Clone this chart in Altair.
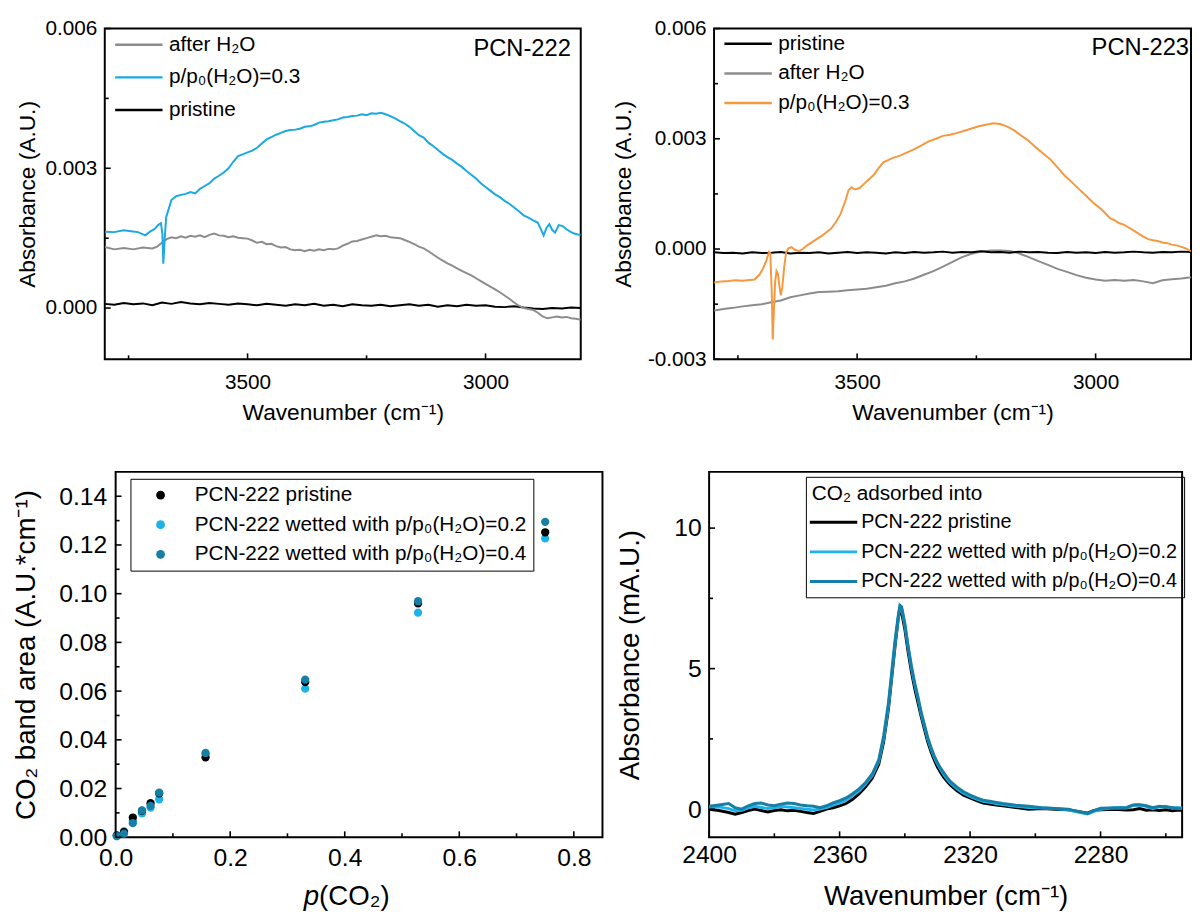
import altair as alt
import pandas as pd

FONT = "Liberation Sans, Arial, Helvetica, sans-serif"
BLACK = "#000000"
GRAY = "#8c8c8c"
SKY = "#1aa9e1"
ORANGE = "#f5983f"
LIGHT = "#1db3ea"
DARK = "#177fa5"
LINE_SYMBOL = "M-4,0L4,0"

# ---------------- Panel A : PCN-222 ----------------
a_black_wn = list(range(3800, 2799, -20))
a_black = [0.00009,0.00007,0.00011,0.00008,0.00010,0.00006,0.00012,0.00009,0.00013,0.00010,
           0.00008,0.00011,0.00009,0.00007,0.00010,0.00008,0.00006,0.00009,0.00007,0.00005,
           0.00008,0.00006,0.00009,0.00005,0.00007,0.00004,0.00008,0.00006,0.00005,0.00007,
           0.00004,0.00006,0.00008,0.00005,0.00007,0.00003,0.00006,0.00004,0.00007,0.00005,
           0.00006,0.00003,0.00002,0.00004,0.00001,-0.00001,-0.00002,0.00000,-0.00001,0.00001,
           0.00000]

a_gray_wn = [3800,3780,3760,3740,3720,3700] + list(range(3690, 2799, -10))
a_gray = [0.00131,0.00126,0.00129,0.00126,0.00130,0.00128,
          0.00132,0.00140,0.00148,0.00152,0.00150,0.00154,0.00151,0.00155,0.00153,0.00156,
          0.00152,0.00157,0.00160,0.00156,0.00155,0.00152,0.00154,0.00151,0.00150,0.00149,
          0.00145,0.00140,0.00142,0.00137,0.00138,0.00133,0.00130,0.00131,0.00126,0.00124,
          0.00125,0.00122,0.00125,0.00123,0.00126,0.00124,0.00127,0.00126,0.00128,0.00134,
          0.00138,0.00143,0.00144,0.00147,0.00150,0.00153,0.00156,0.00154,0.00155,0.00152,
          0.00151,0.00150,0.00146,0.00142,0.00137,0.00132,0.00128,0.00122,0.00115,0.00108,
          0.00102,0.00096,0.00091,0.00085,0.00080,0.00075,0.00070,0.00064,0.00058,0.00052,
          0.00046,0.00040,0.00034,0.00027,0.00020,0.00012,0.00005,0.00000,-0.00002,-0.00004,
          -0.00010,-0.00018,-0.00022,-0.00020,-0.00018,-0.00020,-0.00019,-0.00022,-0.00023,-0.00025]

a_blue_wn = ([3800,3780,3760,3745,3730,3715,3705,3695,3688,3682,3679,3677,3674,3671,3665,3660]
             + list(range(3650, 2889, -10))
             + [2885,2878,2872,2866,2860,2854,2846,2838,2830,2822,2814,2806,2800])
a_blue = [0.00164,0.00163,0.00167,0.00165,0.00163,0.00156,0.00164,0.00170,0.00178,0.00182,
          0.00160,0.00095,0.00150,0.00195,0.00215,0.00232,
          0.00240,0.00243,0.00245,0.00249,0.00246,0.00256,0.00262,0.00268,0.00278,0.00284,
          0.00291,0.00300,0.00314,0.00326,0.00330,0.00334,0.00338,0.00344,0.00353,0.00362,
          0.00367,0.00372,0.00376,0.00380,0.00382,0.00383,0.00385,0.00389,0.00390,0.00393,
          0.00398,0.00400,0.00401,0.00403,0.00405,0.00409,0.00410,0.00412,0.00413,0.00416,
          0.00414,0.00418,0.00417,0.00419,0.00416,0.00412,0.00407,0.00401,0.00396,0.00389,
          0.00380,0.00371,0.00366,0.00355,0.00348,0.00339,0.00331,0.00324,0.00318,0.00310,
          0.00303,0.00294,0.00286,0.00278,0.00268,0.00260,0.00252,0.00244,0.00238,0.00230,
          0.00224,0.00216,0.00208,0.00199,0.00194,0.00188,0.00183,
          0.00172,0.00156,0.00172,0.00180,0.00168,0.00162,0.00178,0.00176,0.00169,0.00164,
          0.00160,0.00158,0.00157]

a_series = ["after H₂O", "p/p₀(H₂O)=0.3", "pristine"]
a_colors = [GRAY, SKY, BLACK]

# ---------------- Panel B : PCN-223 ----------------
b_black_wn = list(range(3800, 2799, -20))
b_black = [-0.00009,-0.00011,-0.00010,-0.00012,-0.00009,-0.00011,-0.00010,-0.00008,-0.00012,-0.00010,
           -0.00011,-0.00009,-0.00012,-0.00010,-0.00008,-0.00011,-0.00009,-0.00010,-0.00012,-0.00009,
           -0.00011,-0.00008,-0.00010,-0.00009,-0.00007,-0.00010,-0.00008,-0.00009,-0.00006,-0.00009,
           -0.00008,-0.00010,-0.00007,-0.00009,-0.00008,-0.00010,-0.00011,-0.00008,-0.00010,-0.00009,
           -0.00011,-0.00008,-0.00010,-0.00009,-0.00007,-0.00009,-0.00010,-0.00008,-0.00009,-0.00007,
           -0.00008]

b_gray_wn = list(range(3800, 2799, -20))
b_gray = [-0.00167,-0.00163,-0.00160,-0.00156,-0.00153,-0.00150,-0.00145,-0.00140,-0.00131,-0.00126,
          -0.00121,-0.00117,-0.00116,-0.00115,-0.00112,-0.00110,-0.00108,-0.00104,-0.00100,-0.00093,
          -0.00088,-0.00080,-0.00070,-0.00060,-0.00048,-0.00035,-0.00022,-0.00013,-0.00007,-0.00004,
          -0.00004,-0.00005,-0.00012,-0.00022,-0.00033,-0.00043,-0.00054,-0.00062,-0.00071,-0.00078,
          -0.00083,-0.00086,-0.00084,-0.00086,-0.00084,-0.00088,-0.00093,-0.00085,-0.00082,-0.00080,
          -0.00077]

b_orange_wn = [3800,3785,3770,3755,3740,3725,3715,3705,3697,3690,
               3685,3682,3679,3677,3675,3672,3669,3666,3663,3660,
               3657,3653,3649,3644,3638,3630,3622,3614,3605,3595,
               3585,3575,3565,3555,3545,3535,3525,3518,3512,3505,
               3495,3485,3475,3465,3455,3445,3435,3425,3410,3395,
               3380,3365,3350,3335,3320,3305,3290,3275,3260,3245,
               3230,3215,3200,3185,3170,3155,3140,3125,3110,3095,
               3080,3065,3050,3035,3020,3005,2990,2980,2970,2960,
               2950,2940,2930,2920,2910,2900,2890,2880,2870,2860,
               2850,2840,2830,2820,2810,2800]
b_orange = [-0.00091,-0.00088,-0.00087,-0.00085,-0.00086,-0.00084,-0.00083,-0.00070,-0.00052,-0.00030,
            -0.00008,-0.00012,-0.00120,-0.00246,-0.00180,-0.00090,-0.00060,-0.00068,-0.00100,-0.00126,
            -0.00105,-0.00050,-0.00010,0.00002,0.00005,-0.00002,-0.00006,0.00000,0.00010,0.00018,
            0.00027,0.00035,0.00045,0.00055,0.00072,0.00095,0.00130,0.00160,0.00168,0.00162,
            0.00166,0.00178,0.00190,0.00202,0.00220,0.00236,0.00242,0.00248,0.00254,0.00263,
            0.00272,0.00282,0.00293,0.00300,0.00308,0.00311,0.00316,0.00322,0.00328,0.00334,
            0.00338,0.00342,0.00340,0.00333,0.00322,0.00308,0.00294,0.00276,0.00260,0.00244,
            0.00222,0.00200,0.00182,0.00163,0.00145,0.00126,0.00110,0.00098,0.00084,0.00078,
            0.00070,0.00066,0.00058,0.00050,0.00042,0.00034,0.00027,0.00024,0.00022,0.00018,
            0.00016,0.00012,0.00010,0.00006,0.00001,-0.00006]

b_series = ["pristine", "after H₂O", "p/p₀(H₂O)=0.3"]
b_colors = [BLACK, GRAY, ORANGE]

# ---------------- Panel C : band area vs p(CO2) ----------------
c_p = [0.002, 0.0146, 0.030, 0.046, 0.061, 0.076, 0.157, 0.331, 0.528, 0.750]
c_pristine = [0.0008, 0.0022, 0.0081, 0.0108, 0.0140, 0.0180, 0.0328, 0.0637, 0.0960, 0.1252]
c_wet02 = [0.0005, 0.0024, 0.0068, 0.0098, 0.0122, 0.0156, 0.0342, 0.0610, 0.0922, 0.1227]
c_wet04 = [0.0005, 0.0015, 0.0058, 0.0110, 0.0129, 0.0183, 0.0346, 0.0647, 0.0969, 0.1295]
c_series = ["PCN-222 pristine", "PCN-222 wetted with p/p₀(H₂O)=0.2", "PCN-222 wetted with p/p₀(H₂O)=0.4"]
c_colors = [BLACK, LIGHT, DARK]

# ---------------- Panel D : CO2 band ----------------
d_wn = [2400,2397,2394,2392,2390,2388,2386,2384,2382,2380,
        2378,2376,2374,2372,2370,2368,2366,2364,2362,2360,
        2358,2356,2354,2352,2350,2348,2346.5,2345,2344,2343,
        2342,2341.5,2341,2340,2339,2338,2337,2336,2335,2334,
        2333,2332,2331,2330,2329,2328,2327,2326,2324,2322,
        2320,2318,2316,2314,2312,2310,2306,2302,2298,2294,
        2290,2287,2284,2282,2280,2276,2272,2270,2268,2266,
        2264,2262,2260,2258,2256,2252,2250]
d_pristine = [0.0,-0.05,-0.12,-0.18,-0.12,-0.05,0.0,-0.05,-0.10,-0.05,
              -0.02,-0.06,-0.04,-0.08,-0.12,-0.15,-0.08,0.0,0.05,0.12,
              0.2,0.35,0.55,0.8,1.1,1.6,2.4,3.6,4.7,5.8,
              6.8,7.1,7.0,6.4,5.6,4.9,4.3,3.8,3.3,2.85,
              2.4,2.05,1.75,1.5,1.3,1.12,0.98,0.85,0.65,0.5,
              0.4,0.3,0.22,0.18,0.15,0.12,0.06,0.0,0.02,0.0,
              -0.02,-0.08,-0.14,-0.05,-0.02,0.0,-0.03,-0.02,0.02,-0.04,
              -0.02,-0.05,-0.02,-0.06,-0.03,-0.05,-0.05]
d_wet02 = [0.05,0.08,0.02,-0.06,-0.04,0.05,0.10,0.06,0.02,0.05,
           0.10,0.08,0.05,0.02,0.0,-0.03,0.0,0.06,0.14,0.22,
           0.32,0.48,0.65,0.9,1.2,1.7,2.5,3.7,4.8,5.9,
           6.85,7.2,7.15,6.55,5.75,5.05,4.45,3.95,3.4,2.95,
           2.5,2.15,1.85,1.6,1.4,1.22,1.06,0.93,0.72,0.57,
           0.45,0.36,0.28,0.24,0.2,0.16,0.1,0.06,0.04,0.02,
           -0.02,-0.1,-0.17,-0.08,0.0,0.05,0.04,0.14,0.15,0.1,
           0.02,0.08,0.1,0.04,0.05,0.02,0.02]
d_wet04 = [0.10,0.15,0.20,0.05,0.00,0.12,0.20,0.22,0.15,0.12,
           0.18,0.22,0.20,0.15,0.12,0.10,0.05,0.12,0.22,0.30,
           0.40,0.55,0.72,0.95,1.25,1.75,2.6,3.8,4.9,6.0,
           6.9,7.25,7.2,6.6,5.8,5.1,4.5,4.0,3.45,3.0,
           2.55,2.2,1.9,1.65,1.45,1.28,1.12,0.98,0.78,0.62,
           0.50,0.40,0.32,0.28,0.24,0.20,0.14,0.10,0.05,0.02,
           0.00,-0.08,-0.15,-0.05,0.03,0.04,0.06,0.15,0.16,0.12,
           0.05,0.10,0.08,0.05,0.02,0.00,0.00]
d_series = ["PCN-222 pristine ", "PCN-222 wetted with p/p₀(H₂O)=0.2 ", "PCN-222 wetted with p/p₀(H₂O)=0.4 "]
d_colors = [BLACK, LIGHT, DARK]


# ---------------- helpers ----------------
def axis(values, title, lsize, tsize, lpad, tpad, fmt=None, expr=None):
    kw = dict(values=values, title=title, ticks=False, tickSize=0, domain=False, grid=False,
              labelFontSize=lsize, titleFontSize=tsize, labelPadding=lpad, titlePadding=tpad,
              labelFont=FONT, titleFont=FONT, labelColor="black", titleColor="black",
              titleFontWeight="normal", labelFlush=False, labelOverlap=False)
    if fmt:
        kw["format"] = fmt
    if expr:
        kw["labelExpr"] = expr
    return alt.Axis(**kw)


def tick_layers(xs, ys, xax, yax, xmaj, xmin, ymaj, ymin, H):
    out = []
    for vals, ln in ((xmaj, 6), (xmin, 4)):
        out.append(alt.Chart(pd.DataFrame({"v": vals})).mark_rule(color="black", strokeWidth=1.6).encode(
            x=alt.X("v:Q", scale=xs, axis=xax), y=alt.value(H - ln), y2=alt.value(H)))
    for vals, ln in ((ymaj, 6), (ymin, 4)):
        out.append(alt.Chart(pd.DataFrame({"v": vals})).mark_rule(color="black", strokeWidth=1.6).encode(
            y=alt.Y("v:Q", scale=ys, axis=yax), x=alt.value(0), x2=alt.value(ln)))
    return out


def label(text, x, y, size=24, align="right", style="normal"):
    return alt.Chart(pd.DataFrame({"t": [text]})).mark_text(
        align=align, baseline="middle", fontSize=size, font=FONT, color="black", fontStyle=style
    ).encode(x=alt.value(x), y=alt.value(y), text="t:N")


def line_legend(x, y, rowpad, title=None, lsize=21, width=2.5, **extra):
    kw = dict(orient="none", legendX=x, legendY=y, title=title, symbolType=LINE_SYMBOL,
              symbolSize=144, symbolStrokeWidth=width, symbolOffset=18, labelOffset=20,
              labelFontSize=lsize, labelFont=FONT, labelColor="black", rowPadding=rowpad,
              labelLimit=0)
    kw.update(extra)
    return alt.Legend(**kw)


def spacer(w):
    return alt.Chart(pd.DataFrame({"t": [""]})).mark_text().encode(
        x=alt.value(0), y=alt.value(0), text="t:N"
    ).properties(width=w, height=10, view=alt.ViewBackground(stroke="transparent"))


# ---------------- Panel A ----------------
WA, HA = 482, 335
xA = alt.Scale(domain=[2800, 3800], reverse=True, nice=False, zero=False)
yA = alt.Scale(domain=[-0.0011, 0.006], nice=False, zero=False)
axXA = axis([3500, 3000], "Wavenumber (cm⁻¹)", 21, 23, 13, 9, fmt="d")
axYA = axis([0, 0.003, 0.006], "Absorbance (A.U.)", 21, 23, 8, 6, fmt=".3f")
dfA = pd.concat([
    pd.DataFrame({"wn": a_black_wn, "ab": a_black, "s": a_series[2]}),
    pd.DataFrame({"wn": a_gray_wn, "ab": a_gray, "s": a_series[0]}),
    pd.DataFrame({"wn": a_blue_wn, "ab": a_blue, "s": a_series[1]}),
])
lineA = alt.Chart(dfA).mark_line(strokeWidth=2, clip=True).encode(
    x=alt.X("wn:Q", scale=xA, axis=axXA),
    y=alt.Y("ab:Q", scale=yA, axis=axYA),
    color=alt.Color("s:N", scale=alt.Scale(domain=a_series, range=a_colors),
                    legend=line_legend(6, 6, 11, padding=0)),
)
panelA = alt.layer(
    lineA,
    *tick_layers(xA, yA, axXA, axYA, [3500, 3000], [3750, 3250], [0, 0.003, 0.006], [0.0015, 0.0045], HA),
    label("PCN-222", WA - 10, 21),
).properties(width=WA, height=HA)

# ---------------- Panel B ----------------
WB, HB = 483, 335
xB = alt.Scale(domain=[2800, 3800], reverse=True, nice=False, zero=False)
yB = alt.Scale(domain=[-0.003, 0.006], nice=False, zero=False)
neg_expr = "datum.value < 0 ? '-' + format(-datum.value, '.3f') : format(datum.value, '.3f')"
axXB = axis([3500, 3000], "Wavenumber (cm⁻¹)", 21, 23, 13, 9, fmt="d")
axYB = axis([-0.003, 0, 0.003, 0.006], "Absorbance (A.U.)", 21, 23, 8, 12, expr=neg_expr)
dfB = pd.concat([
    pd.DataFrame({"wn": b_gray_wn, "ab": b_gray, "s": b_series[1]}),
    pd.DataFrame({"wn": b_black_wn, "ab": b_black, "s": b_series[0]}),
    pd.DataFrame({"wn": b_orange_wn, "ab": b_orange, "s": b_series[2]}),
])
lineB = alt.Chart(dfB).mark_line(strokeWidth=2, clip=True).encode(
    x=alt.X("wn:Q", scale=xB, axis=axXB),
    y=alt.Y("ab:Q", scale=yB, axis=axYB),
    color=alt.Color("s:N", scale=alt.Scale(domain=b_series, range=b_colors),
                    legend=line_legend(6, 5, 8, padding=0)),
)
panelB = alt.layer(
    lineB,
    *tick_layers(xB, yB, axXB, axYB, [3500, 3000], [3750, 3250], [-0.003, 0, 0.003, 0.006],
                 [-0.0015, 0.0015, 0.0045], HB),
    label("PCN-223", WB - 2, 20),
).properties(width=WB, height=HB)

# ---------------- Panel C ----------------
WC, HC = 493, 370
xC = alt.Scale(domain=[0, 0.85], nice=False, zero=False)
yC = alt.Scale(domain=[0, 0.15], nice=False, zero=False)
axXC = axis([0, 0.2, 0.4, 0.6, 0.8], None, 25, 28, 9, 6, fmt=".1f")
axYC = axis([0, 0.02, 0.04, 0.06, 0.08, 0.10, 0.12, 0.14], "CO₂ band area (A.U.*cm⁻¹)", 25, 28, 9, 18, fmt=".2f")
dfC = pd.concat([
    pd.DataFrame({"p": c_p, "area": c_wet02, "s": c_series[1]}),
    pd.DataFrame({"p": c_p, "area": c_pristine, "s": c_series[0]}),
    pd.DataFrame({"p": c_p, "area": c_wet04, "s": c_series[2]}),
])
ptsC = alt.Chart(dfC).mark_circle(size=70, opacity=1).encode(
    x=alt.X("p:Q", scale=xC, axis=axXC),
    y=alt.Y("area:Q", scale=yC, axis=axYC),
    color=alt.Color("s:N", scale=alt.Scale(domain=c_series, range=c_colors), legend=alt.Legend(
        orient="none", legendX=15, legendY=7, title=None, symbolType="circle", symbolSize=80,
        symbolOffset=14, labelOffset=24, labelFontSize=21, labelFont=FONT, labelColor="black",
        rowPadding=8, padding=6, strokeColor="black", labelLimit=0)),
)
panelC = alt.layer(
    ptsC,
    *tick_layers(xC, yC, axXC, axYC, [0, 0.2, 0.4, 0.6, 0.8], [0.1, 0.3, 0.5, 0.7],
                 [0, 0.02, 0.04, 0.06, 0.08, 0.10, 0.12, 0.14],
                 [0.01, 0.03, 0.05, 0.07, 0.09, 0.11, 0.13], HC),
    label("p", 206, 431, size=28, align="right", style="italic"),
    label("(CO₂)", 206, 431, size=28, align="left"),
).properties(width=WC, height=HC)

# ---------------- Panel D ----------------
WD, HD = 479, 370
xD = alt.Scale(domain=[2255, 2400], reverse=True, nice=False, zero=False)
yD = alt.Scale(domain=[-1, 12], nice=False, zero=False)
axXD = axis([2400, 2360, 2320, 2280], "Wavenumber (cm⁻¹)", 25, 28, 6, 15, fmt="d")
axYD = axis([0, 5, 10], "Absorbance (mA.U.)", 25, 28, 8, 30, fmt="d")
dfD = pd.concat([
    pd.DataFrame({"wn": d_wn, "ab": d_pristine, "s": d_series[0]}),
    pd.DataFrame({"wn": d_wn, "ab": d_wet02, "s": d_series[1]}),
    pd.DataFrame({"wn": d_wn, "ab": d_wet04, "s": d_series[2]}),
])
lineD = alt.Chart(dfD).mark_line(strokeWidth=3, clip=True).encode(
    x=alt.X("wn:Q", scale=xD, axis=axXD),
    y=alt.Y("ab:Q", scale=yD, axis=axYD),
    color=alt.Color("s:N", scale=alt.Scale(domain=d_series, range=d_colors),
                    legend=line_legend(98, 5, 10, title="CO₂ adsorbed into", lsize=20, width=3,
                                       padding=6, strokeColor="black", titleFontSize=21,
                                       titleFont=FONT, titleFontWeight="normal", titleColor="black",
                                       titlePadding=9, symbolOffset=12, labelOffset=18)),
)
panelD = alt.layer(
    lineD,
    *tick_layers(xD, yD, axXD, axYD, [2400, 2360, 2320, 2280], [2380, 2340, 2300, 2260], [0, 5, 10],
                 [2.5, 7.5], HD),
).properties(width=WD, height=HD)

top_inner = alt.hconcat(panelA, panelB, spacing=30).resolve_scale(color="independent")
bottom_inner = alt.hconcat(panelC, panelD, spacing=12).resolve_scale(color="independent")
top = alt.hconcat(spacer(5), top_inner, spacing=0).resolve_scale(color="independent")
bottom = alt.hconcat(spacer(2), bottom_inner, spacing=0).resolve_scale(color="independent")
chart = alt.vconcat(top, bottom, spacing=40).resolve_scale(color="independent").properties(
    padding={"left": 0, "top": 3, "right": 0, "bottom": 0}
).configure(font=FONT).configure_view(stroke="black", strokeWidth=2)

chart.save("out.html", embed_options={"renderer": "svg", "actions": False})
